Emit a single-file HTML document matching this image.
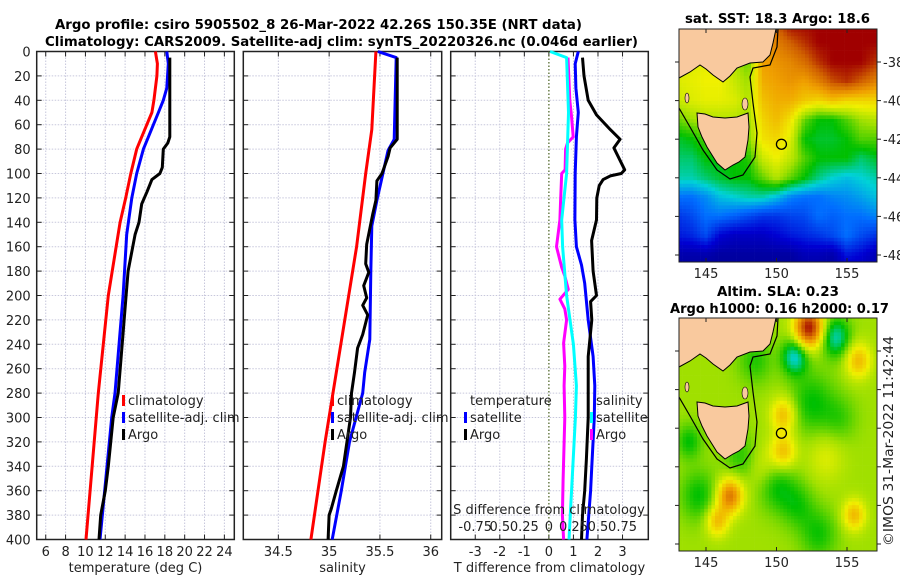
<!DOCTYPE html>
<html><head><meta charset="utf-8">
<style>
html,body{margin:0;padding:0;background:#fff;}
svg{display:block;font-family:"DejaVu Sans","Liberation Sans",sans-serif;}
.t{font-size:13px;fill:#222;}
.b{font-weight:bold;font-size:13.5px;fill:#000;}
</style></head>
<body>
<svg id="fig" width="900" height="580" viewBox="0 0 900 580" xmlns="http://www.w3.org/2000/svg">
<text class="b" x="55" y="29" textLength="527" lengthAdjust="spacingAndGlyphs">Argo profile: csiro 5905502_8 26-Mar-2022 42.26S 150.35E (NRT data)</text>
<text class="b" x="45" y="46" textLength="593" lengthAdjust="spacingAndGlyphs">Climatology: CARS2009. Satellite-adj clim: synTS_20220326.nc (0.046d earlier)</text>
<g id="p1"></g>
<g id="p2"></g>
<g id="p3"></g>
<g id="m1"></g>
<g id="m2"></g>
<text class="b" x="685" y="23" textLength="185" lengthAdjust="spacingAndGlyphs">sat. SST: 18.3 Argo: 18.6</text>
<text class="b" x="717" y="296" textLength="122" lengthAdjust="spacingAndGlyphs">Altim. SLA: 0.23</text>
<text class="b" x="670" y="313" textLength="219" lengthAdjust="spacingAndGlyphs">Argo h1000: 0.16 h2000: 0.17</text>
<text class="t" transform="translate(893,546) rotate(-90)" textLength="210" lengthAdjust="spacingAndGlyphs">©IMOS 31-Mar-2022 11:42:44</text>
</svg>
<script>
// ---------- data ----------
const depthTicks=[0,20,40,60,80,100,120,140,160,180,200,220,240,260,280,300,320,340,360,380,400];
const tempTicks=[6,8,10,12,14,16,18,20,22,24];
const salTicks=[34.5,35,35.5,36];
const diffTicks=[-3,-2,-1,0,1,2,3];
const sdiffLabels=["-0.75","0.5","0.25","0","0.25","0.5","0.75"];
// temperature (depth, value)
const tClimDepth=[0,10,20,40,50,60,70,80,100,120,140,200,280,400];
const tClim=[17.05,17.25,17.2,16.9,16.7,16.18,15.67,15.17,14.57,14.06,13.49,12.3,11.3,10.06];
const tSatDepth=[0,10,30,40,50,60,70,80,100,120,140,150,200,280,300,400];
const tSat=[18.2,18.35,18.2,17.85,17.35,16.85,16.34,15.84,15.17,14.67,14.33,14.16,13.8,12.98,12.65,11.47];
const tArgoDepth=[5,20,70,75,80,95,100,105,115,125,140,150,180,200,250,280,300,340,360,380,400];
const tArgo=[18.5,18.5,18.5,18.3,17.85,17.75,17.5,16.7,16.2,15.67,15.4,15.0,14.3,14.1,13.6,13.3,12.8,12.3,12.0,11.54,11.37];
// salinity
const sClimDepth=[0,64,100,160,263,320,400];
const sClim=[35.46,35.42,35.36,35.27,35.07,34.96,34.82];
const sSatDepth=[0,5,72,81,122,143,181,236,263,280,320,360,400];
const sSat=[35.48,35.66,35.64,35.58,35.47,35.42,35.41,35.4,35.35,35.33,35.2,35.12,35.03];
const sArgoDepth=[5,72,79,86,100,106,122,133,158,174,181,192,202,208,216,232,243,263,280,300,340,360,375,380,400];
const sArgo=[35.67,35.67,35.6,35.58,35.52,35.47,35.46,35.43,35.37,35.36,35.39,35.34,35.37,35.33,35.38,35.33,35.28,35.25,35.22,35.21,35.14,35.07,35.02,35.0,34.99];
// differences (x-axis in T units)
const dTArgoDepth=[5,20,40,52,64,72,79,86,97,100,102,105,110,120,138,155,180,200,205,220,250,274,300,334,360,380,400];
const dTArgo=[1.37,1.43,1.6,1.94,2.5,2.9,2.65,2.82,3.09,2.95,2.5,2.21,2.05,1.95,1.94,1.74,1.8,1.94,1.7,1.75,1.6,1.6,1.6,1.53,1.46,1.37,1.33];
const dTSatDepth=[0,10,30,50,70,100,138,160,175,190,220,250,274,300,340,360,400];
const dTSat=[1.2,1.07,1.1,1.2,1.12,1.07,1.06,1.12,1.33,1.46,1.6,1.8,1.87,1.85,1.75,1.7,1.55];
const dSSatDepth=[0,5,50,100,138,160,200,240,274,300,350,400];
const dSSat=[0.05,0.72,0.8,0.72,0.52,0.56,0.72,1.0,1.12,1.08,0.95,0.82];
const dSArgoDepth=[5,40,53,70,75,80,97,100,120,138,160,177,184,195,203,211,220,239,258,274,300,351,380,400];
const dSArgo=[0.78,0.85,0.92,0.99,0.76,0.68,0.66,0.52,0.48,0.45,0.31,0.52,0.65,0.79,0.45,0.65,0.72,0.6,0.65,0.62,0.65,0.58,0.55,0.6];
// SST coarse grid: rows lat -36..-49, cols lon 143..157
const sstLats=[-36,-37,-38,-39,-40,-41,-42,-43,-44,-45,-46,-47,-48,-49];
const sstGrid=[
[.66,.66,.66,.66,.66,.66,.66,.9,1,1,1,1,1,1,1],
[.66,.66,.66,.66,.66,.6,.8,.85,.9,.95,1,1,1,1,1],
[.64,.66,.67,.67,.62,.56,.8,.82,.84,.88,.95,1,1,1,.95],
[.66,.67,.68,.68,.64,.6,.78,.8,.82,.8,.85,.92,.95,.9,.85],
[.64,.66,.67,.67,.66,.62,.75,.78,.78,.74,.72,.75,.72,.72,.72],
[.56,.6,.62,.62,.62,.6,.72,.76,.7,.56,.5,.5,.55,.6,.62],
[.48,.5,.55,.55,.6,.58,.7,.72,.66,.5,.48,.48,.5,.55,.55],
[.45,.45,.5,.5,.5,.52,.64,.68,.63,.55,.5,.5,.5,.45,.48],
[.42,.42,.45,.48,.5,.5,.56,.62,.56,.5,.44,.4,.38,.4,.42],
[.3,.3,.33,.38,.4,.42,.42,.38,.32,.3,.3,.32,.33,.35,.38],
[.22,.25,.3,.3,.28,.25,.22,.22,.24,.25,.3,.28,.3,.3,.32],
[.18,.2,.25,.15,.12,.12,.12,.15,.18,.2,.22,.25,.3,.25,.22],
[.08,.08,.08,.06,.06,.06,.06,.06,.06,.1,.1,.08,.18,.15,.1],
[.05,.05,.05,.05,.05,.05,.05,.05,.05,.06,.06,.06,.1,.1,.08]];
// SLA features: lon, lat, amplitude, radius(deg)
const slaBase=0.6;
const slaLon=[152.3,151.3,154.2,150.5,150.5,155.8,146.7,145.8,155.5,152.5,144.5,150,147.5,153,148.5,149,153.5,143.8,154.5,151.5];
const slaLat=[-36.8,-38.3,-37.3,-41.3,-43.2,-38.5,-45.5,-46.8,-46.5,-40.7,-45.5,-45,-43.5,-47.5,-38.5,-44,-43.5,-42.7,-41.5,-46];
const slaAmp=[0.38,-0.2,-0.18,0.16,0.15,0.16,0.26,0.16,0.16,-0.1,-0.1,-0.1,-0.08,-0.09,-0.08,0.06,0.06,-0.1,-0.06,-0.08];
const slaRad=[1.0,0.9,1.0,0.9,0.9,0.9,0.9,0.8,0.8,1.6,1.3,1.3,1.2,1.3,1.2,1.2,1.3,0.9,1.2,1.2];
const argoLon=150.35, argoLat=-42.26;
const mapLonTicks=[145,150,155];
const mapLatTicks=[-38,-40,-42,-44,-46,-48];

// ---------- helpers ----------
const NS="http://www.w3.org/2000/svg";
function mk(parent,tag,attrs,text){const e=document.createElementNS(NS,tag);for(const k in attrs)e.setAttribute(k,attrs[k]);if(text!==undefined)e.textContent=text;parent.appendChild(e);return e;}
const Y0=51.5,Y1=539.5;
const yD=d=>Y0+(d/400)*(Y1-Y0);

function panel(g,x0,x1,dom,ticks,gridTicks,tickLabels,xlabel,showY){
  const xs=v=>x0+(v-dom[0])/(dom[1]-dom[0])*(x1-x0);
  depthTicks.forEach(d=>{const l=mk(g,'line',{x1:x0,x2:x1,y1:yD(d),y2:yD(d),stroke:'#c7c7dc','stroke-width':1,'stroke-dasharray':'1.5,1.5'});
    
    });
  gridTicks.forEach(v=>{const l=mk(g,'line',{x1:xs(v),x2:xs(v),y1:Y0,y2:Y1,stroke:'#c7c7dc','stroke-width':1,'stroke-dasharray':'1.5,1.5'});
    
    });
  depthTicks.forEach(d=>{mk(g,'line',{x1:x0,x2:x0+5,y1:yD(d),y2:yD(d),stroke:'#222'});mk(g,'line',{x1:x1-5,x2:x1,y1:yD(d),y2:yD(d),stroke:'#222'});
    if(showY){const t=mk(g,'text',{x:x0-6,y:yD(d)+5,'text-anchor':'end',class:'t'},String(d));
      
      }});
  ticks.forEach((v,i)=>{mk(g,'line',{x1:xs(v),x2:xs(v),y1:Y1,y2:Y1-5,stroke:'#222'});mk(g,'line',{x1:xs(v),x2:xs(v),y1:Y0,y2:Y0+5,stroke:'#222'});
    const t=mk(g,'text',{x:xs(v),y:556,'text-anchor':'middle',class:'t'},tickLabels[i]);
    
    });
  const r=mk(g,'rect',{x:x0,y:Y0,width:x1-x0,height:Y1-Y0,fill:'none',stroke:'#222','stroke-width':1.5});
  
  
  const xl=mk(g,'text',{x:(x0+x1)/2,y:572,'text-anchor':'middle',class:'t'},xlabel);
  
  
  return xs;
}
function series(g,xs,depths,vals,color,name){
  const pts=depths.map((d,i)=>xs(vals[i]).toFixed(1)+','+yD(d).toFixed(1)).join(' ');
  const p=mk(g,'polyline',{points:pts,fill:'none',stroke:color,'stroke-width':3,'stroke-linejoin':'round'});
  
  
}
function legend(g,x,y,color,label,name){
  if(color){const b=mk(g,'rect',{x:x,y:y-10,width:3,height:11,fill:color});
    
    }
  const t=mk(g,'text',{x:x+6,y:y,class:'t'},label);
  
  
}

const g1=document.getElementById('p1');
const xs1=panel(g1,36.7,234.3,[5.09,25.0],tempTicks,tempTicks,tempTicks.map(String),'temperature (deg C)',true);
series(g1,xs1,tClimDepth,tClim,'#ff0000','temp-climatology-line');
series(g1,xs1,tSatDepth,tSat,'#0000ff','temp-satellite-line');
series(g1,xs1,tArgoDepth,tArgo,'#000000','temp-argo-line');
legend(g1,122,405,'#ff0000','climatology','legend-climatology');
legend(g1,122,422,'#0000ff','satellite-adj. clim','legend-satellite');
legend(g1,122,439,'#000000','Argo','legend-argo');

const g2=document.getElementById('p2');
const xs2=panel(g2,243.3,441.7,[34.155,36.108],salTicks,salTicks,salTicks.map(String),'salinity',false);
series(g2,xs2,sClimDepth,sClim,'#ff0000','sal-climatology-line');
series(g2,xs2,sSatDepth,sSat,'#0000ff','sal-satellite-line');
series(g2,xs2,sArgoDepth,sArgo,'#000000','sal-argo-line');
legend(g2,331,405,'#ff0000','climatology','legend-climatology');
legend(g2,331,422,'#0000ff','satellite-adj. clim','legend-satellite');
legend(g2,331,439,'#000000','Argo','legend-argo');

const g3=document.getElementById('p3');
const xs3=panel(g3,450.7,648.3,[-4,4.05],diffTicks,diffTicks.filter(v=>v!==0),diffTicks.map(String),'T difference from climatology',false);
const z=mk(g3,'line',{x1:xs3(0),x2:xs3(0),y1:Y0,y2:Y1,stroke:'#556b2f','stroke-width':1.3,'stroke-dasharray':'1.5,2'});


series(g3,xs3,dSArgoDepth,dSArgo,'#ff00ff','sdiff-argo-line');
series(g3,xs3,dSSatDepth,dSSat,'#00ffff','sdiff-satellite-line');
series(g3,xs3,dTSatDepth,dTSat,'#0000ff','tdiff-satellite-line');
series(g3,xs3,dTArgoDepth,dTArgo,'#000000','tdiff-argo-line');
legend(g3,464,405,null,'temperature','legend-temperature-heading');
legend(g3,464,422,'#0000ff','satellite','legend-temp-satellite');
legend(g3,464,439,'#000000','Argo','legend-temp-argo');
legend(g3,590,405,null,'salinity','legend-salinity-heading');
legend(g3,590,422,'#00ffff','satellite','legend-sal-satellite');
legend(g3,590,439,'#ff00ff','Argo','legend-sal-argo');
const st=mk(g3,'text',{x:549,y:514,'text-anchor':'middle',class:'t'},'S difference from climatology');


diffTicks.forEach((v,i)=>{const t=mk(g3,'text',{x:xs3(v),y:531,'text-anchor':'middle',class:'t'},sdiffLabels[i]);
  
  });

// ---------- maps ----------
const stops=[[0,[0,0,128]],[0.15,[0,0,210]],[0.3,[0,110,255]],[0.4,[0,210,215]],[0.5,[0,192,0]],[0.6,[160,224,0]],[0.68,[240,240,0]],[0.8,[240,160,0]],[0.9,[208,96,0]],[1,[160,0,0]]];
function cmap(v){v=Math.max(0,Math.min(1,v));for(let i=1;i<stops.length;i++){if(v<=stops[i][0]){const a=stops[i-1],b=stops[i],t=(v-a[0])/(b[0]-a[0]);
  return 'rgb('+a[1].map((c,j)=>Math.round(c+(b[1][j]-c)*t)).join(',')+')';}}return 'rgb(160,0,0)';}
function sstVal(lon,lat){const fx=lon-143,fy=-36-lat;const i=Math.max(0,Math.min(12.999,fy)),j=Math.max(0,Math.min(13.999,fx));
  const i0=Math.floor(i),j0=Math.floor(j),di=i-i0,dj=j-j0;const G=sstGrid;
  return G[i0][j0]*(1-di)*(1-dj)+G[i0][j0+1]*(1-di)*dj+G[i0+1][j0]*di*(1-dj)+G[i0+1][j0+1]*di*dj;}
function slaVal(lon,lat){let v=slaBase;for(let k=0;k<slaLon.length;k++){const d2=((lon-slaLon[k])**2+(lat-slaLat[k])**2)/(slaRad[k]**2);v+=slaAmp[k]*Math.exp(-d2);}return v;}
const MX0=679,MX1=877;
const lonX=lon=>706+(lon-145)*14.1;
const xLon=x=>145+(x-706)/14.1;
const mainland="679,29 679,78 690,72 700,65 706,69 713,75 723,82 730,76 737,68 750,63 763,62 770,55 773,43 776,29";
const tasmania="697,113 705,114 713,117 725,118 737,117 748,113 749,127 748,140 745,157 739,162 733,165 725,170 717,163 712,155 707,147 702,137 698,127";
const shelf="679,108 690,127 703,150 717,170 730,179 743,175 755,157 757,133 753,103 750,77 753,68 770,65 777,47 778,29";
function drawMap(id,top,valFn,clipId){
  const g=document.getElementById(id);const bot=top+233;const off=top-29;
  const latY=lat=>62+off+(-38-lat)*19.3;const yLat=y=>-38-(y-62-off)/19.3;
  const defs=mk(g,'defs',{});const cp=mk(defs,'clipPath',{id:clipId});mk(cp,'rect',{x:MX0,y:top,width:MX1-MX0,height:233});
  const cells=mk(g,'g',{'clip-path':'url(#'+clipId+')'});
  
  
  const cw=3.6,ch=3.6;
  for(let y=top;y<bot;y+=ch){for(let x=MX0;x<MX1;x+=cw){
    mk(cells,'rect',{x:x.toFixed(1),y:y.toFixed(1),width:cw+0.3,height:ch+0.3,fill:cmap(valFn(xLon(x+cw/2),yLat(y+ch/2)))});}}
  const land=mk(g,'g',{transform:'translate(0,'+off+')','clip-path':'url(#'+clipId+'s)'});
  const cp2=mk(defs,'clipPath',{id:clipId+'s'});mk(cp2,'rect',{x:MX0,y:29,width:MX1-MX0,height:233});
  const sh=mk(land,'polyline',{points:shelf,fill:'none',stroke:'#000','stroke-width':1.2});
  
  
  const ml=mk(land,'polygon',{points:mainland,fill:'#f9c99e',stroke:'#000','stroke-width':1});
  
  
  const ts=mk(land,'polygon',{points:tasmania,fill:'#f9c99e',stroke:'#000','stroke-width':1});
  
  
  mk(land,'ellipse',{cx:687,cy:98,rx:2,ry:5,fill:'#f9c99e',stroke:'#000','stroke-width':0.6});
  mk(land,'ellipse',{cx:745,cy:104,rx:3,ry:6,fill:'#f9c99e',stroke:'#000','stroke-width':0.6});
  const c=mk(g,'circle',{cx:lonX(argoLon),cy:latY(argoLat),r:5,fill:'none',stroke:'#000','stroke-width':1.3});
  
  
  const fr=mk(g,'rect',{x:MX0,y:top,width:MX1-MX0,height:233,fill:'none',stroke:'#222','stroke-width':1});
  
  
  mapLonTicks.forEach(lon=>{mk(g,'line',{x1:lonX(lon),x2:lonX(lon),y1:bot,y2:bot-4,stroke:'#222'});mk(g,'line',{x1:lonX(lon),x2:lonX(lon),y1:top,y2:top+4,stroke:'#222'});
    const t=mk(g,'text',{x:lonX(lon),y:bot+16,'text-anchor':'middle',class:'t'},String(lon));
    
    });
  mapLatTicks.forEach(lat=>{mk(g,'line',{x1:MX1,x2:MX1+4,y1:latY(lat),y2:latY(lat),stroke:'#222'});mk(g,'line',{x1:MX0,x2:MX0-4,y1:latY(lat),y2:latY(lat),stroke:'#222'});
    if(id==='m1'){const t=mk(g,'text',{x:MX1+6,y:latY(lat)+5,class:'t'},String(lat));
    
    }});
}
drawMap('m1',29,sstVal,'clipA');
drawMap('m2',318,slaVal,'clipB');
</script>
</body></html>
